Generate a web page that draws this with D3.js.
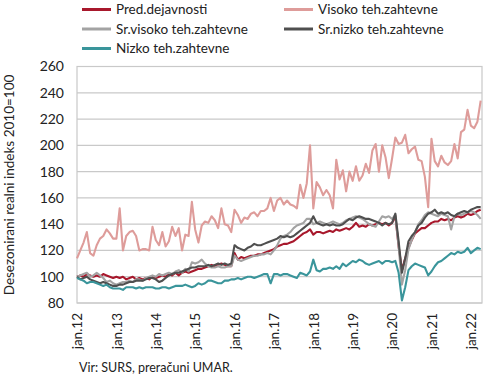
<!DOCTYPE html>
<html><head><meta charset="utf-8">
<script src="https://cdn.jsdelivr.net/npm/d3@7"></script>
<style>body{margin:0;background:#fff}svg{display:block;font-family:Lato,"Open Sans",sans-serif}</style>
</head><body><svg id="c" width="490" height="379"></svg>
<script>
const seriesNames = ["Pred.dejavnosti","Visoko teh.zahtevne","Sr.visoko teh.zahtevne","Sr.nizko teh.zahtevne","Nizko teh.zahtevne"];
const tickLabels = ["jan.12","jan.13","jan.14","jan.15","jan.16","jan.17","jan.18","jan.19","jan.20","jan.21","jan.22"];
const yTicks = [80,100,120,140,160,180,200,220,240,260];

const pred = [100,101,100,102,101,100,101,100,102,101,100,99,
100,99,100,98,99,100,98,99,98,99,98,100,
99,100,101,100,102,101,103,101,103,104,103,104,
105,106,106,107,108,109,108,109,110,109,108,108,
118,113,115,114,115,116,116,117,117,118,119,120,
121,123,124,125,125,126,127,129,131,133,134,136,
132,134,134,133,134,135,134,136,135,136,137,136,
138,141,138,139,138,140,139,140,141,140,141,139,
141,146,123,105,114,122,128,133,135,137,137,139,
141,142,142,144,143,144,143,145,146,145,146,148,
147,148,150,151];
const visoko = [114,120,126,134,118,116,124,129,131,136,133,129,
129,152,120,131,134,135,131,120,121,121,120,138,
128,124,134,123,127,138,131,137,120,132,131,157,
136,126,139,142,141,146,143,137,152,140,139,134,
151,147,141,145,144,148,149,146,150,150,152,160,
150,158,160,155,158,155,154,152,170,160,171,200,
152,172,168,162,166,162,152,189,174,181,165,180,
173,184,173,177,186,179,196,201,180,200,191,175,
190,206,201,202,208,194,197,199,189,188,176,153,
205,188,184,192,187,185,188,201,190,210,212,227,
215,213,218,234];
const srVisoko = [100,101,102,103,100,101,103,101,99,96,97,95,
94,95,96,96,97,96,98,98,97,99,100,101,
100,102,101,102,103,102,104,105,103,106,104,111,
110,111,113,110,108,107,107,108,107,107,108,108,
116,113,112,113,114,115,116,116,117,117,118,117,
120,124,129,131,132,134,137,139,140,141,144,144,
140,141,142,141,140,141,142,141,140,141,143,144,
145,146,145,144,142,140,139,138,142,146,145,146,
144,147,123,94,105,121,128,134,140,143,147,149,
148,147,146,148,147,146,136,146,148,147,148,149,
150,149,147,144];
const srNizko = [100,98,99,100,98,97,96,95,96,95,94,93,
93,94,94,95,96,96,97,97,97,98,99,99,
98,96,97,99,101,102,103,103,104,105,106,107,
107,108,108,108,109,108,109,110,109,110,109,110,
124,122,121,120,122,123,125,124,124,125,126,127,
128,129,131,130,131,130,131,133,135,137,139,141,
146,141,140,139,140,139,140,139,139,140,142,144,
143,145,146,145,144,144,143,142,141,139,141,140,
141,148,127,103,114,127,131,134,139,141,145,148,
149,151,148,149,148,149,147,146,148,149,150,149,
151,152,153,153];
const nizko = [99,98,97,95,96,96,95,94,93,94,92,91,
91,91,90,92,92,92,91,92,91,92,92,92,
91,91,92,92,91,92,93,93,93,94,93,92,
93,95,94,95,97,97,96,95,95,97,97,98,
98,99,98,99,100,100,99,100,101,102,102,95,
102,102,101,102,102,101,100,99,103,102,101,104,
113,105,104,106,106,107,106,108,106,110,108,110,
112,111,113,112,110,109,110,111,112,110,112,112,
111,112,103,82,92,105,108,110,109,108,107,101,
104,108,111,112,114,116,118,117,119,118,119,122,
118,120,122,121];
const colors = ["#a8182c","#de9c9a","#a3a3a3","#4f4f4f","#3a959b"];

const data = [pred, visoko, srVisoko, srNizko, nizko];
const svg = d3.select("#c");
const L = 77, R = 482, T = 66.5, B = 303;
const x = d3.scaleLinear().domain([0, 123.4]).range([L, R]);
const y = d3.scaleLinear().domain([80, 260]).range([B, T]);

// gridlines
svg.append("g").selectAll("line").data(yTicks).join("line")
  .attr("x1", L).attr("x2", R).attr("y1", d => y(d)).attr("y2", d => y(d))
  .attr("stroke", "#c9c9c9").attr("stroke-width", 1.2);
svg.append("rect").attr("x", L).attr("y", T).attr("width", R - L).attr("height", B - T)
  .attr("fill", "none").attr("stroke", "#c9c9c9").attr("stroke-width", 1.2);

// y axis
const yAxis = d3.axisLeft(y).tickValues(yTicks).tickSize(0).tickPadding(0);
const gy = svg.append("g").attr("transform", `translate(${L - 13},0)`).call(yAxis);
gy.select(".domain").remove();
gy.selectAll("text").attr("font-size", 14).attr("fill", "#222").attr("font-family", "Lato, sans-serif");

// x axis
const xAxis = d3.axisBottom(x).tickValues(d3.range(0, 121, 12)).tickFormat((d, i) => tickLabels[i]).tickSize(0);
const gx = svg.append("g").attr("transform", `translate(0,${B})`).call(xAxis);
gx.select(".domain").remove();
gx.selectAll("text").attr("font-size", 13.5).attr("fill", "#222").attr("font-family", "Lato, sans-serif")
  .attr("text-anchor", "end").attr("dy", "0.35em").attr("transform", "translate(0,10) rotate(-90)").attr("x", 0).attr("y", 0);

// lines
const line = d3.line().x((d, i) => x(i)).y(d => y(d));
svg.append("g").selectAll("path").data(data).join("path")
  .attr("d", d => line(d)).attr("fill", "none")
  .attr("stroke", (d, i) => colors[i]).attr("stroke-width", 2.1).attr("stroke-linejoin", "round");

// y title
svg.append("text").attr("transform", "translate(14,185) rotate(-90)").attr("text-anchor", "middle")
  .attr("font-size", 13.5).attr("fill", "#222").text("Desezonirani realni indeks 2010=100");

// legend
const legPos = [[82, 9.5], [284, 9.5], [82, 29], [284, 29], [82, 48.5]];
const lg = svg.append("g").selectAll("g").data(seriesNames).join("g")
  .attr("transform", (d, i) => `translate(${legPos[i][0]},${legPos[i][1]})`);
lg.append("line").attr("x1", 0).attr("x2", 29).attr("stroke", (d, i) => colors[i]).attr("stroke-width", 3);
lg.append("text").attr("x", 34).attr("dy", "0.35em").attr("font-size", 13.5).attr("fill", "#222").text(d => d);

// source
svg.append("text").attr("x", 79).attr("y", 372).attr("font-size", 12.5).attr("fill", "#222").text("Vir: SURS, preračuni UMAR.");
</script></body></html>
